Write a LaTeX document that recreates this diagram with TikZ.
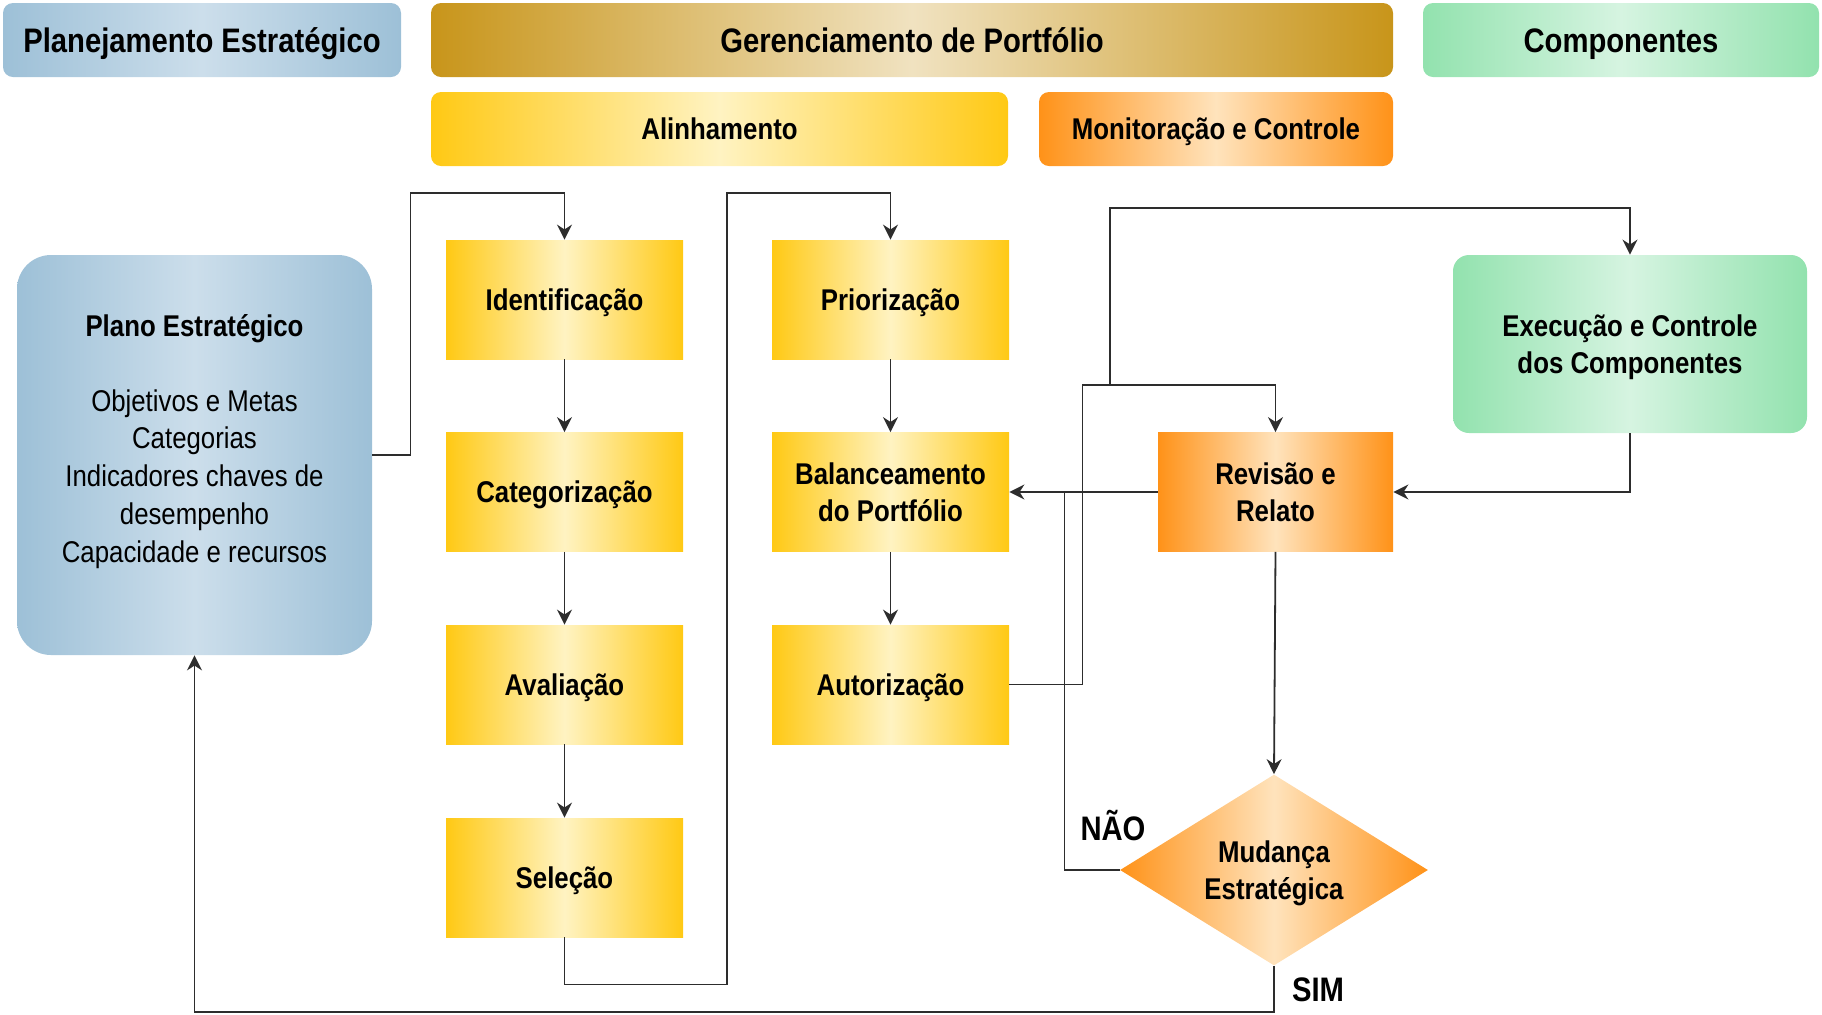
\documentclass[tikz,border=0pt]{standalone}
\usepackage{fontspec}
\setmainfont{Liberation Sans}[FakeStretch=0.86]
\usepackage{xcolor}
\usepackage{tikz}
\usetikzlibrary{arrows,arrows.meta,shapes,positioning,calc}

\definecolor{azulE}{RGB}{157,192,215}
\definecolor{azulC}{RGB}{204,222,235}
\definecolor{ouroE}{RGB}{200,149,26}
\definecolor{ouroC}{RGB}{240,226,192}
\definecolor{verdeE}{RGB}{146,226,174}
\definecolor{verdeC}{RGB}{214,244,225}
\definecolor{amareloE}{RGB}{255,201,20}
\definecolor{amareloC}{RGB}{255,243,194}
\definecolor{laranjaE}{RGB}{255,146,24}
\definecolor{laranjaC}{RGB}{255,227,188}
\definecolor{linha}{RGB}{45,45,45}

\tikzset{
	cabec/.style={rounded corners=5pt,inner sep=0pt,font=\fontsize{17}{20}\selectfont\bfseries,text height=12.2pt,text depth=0pt,minimum height=37pt},
	cabecmenor/.style={cabec,font=\fontsize{15}{18}\selectfont\bfseries,text height=10.7pt},
	etapa/.style={inner sep=0pt,align=center,font=\fontsize{15}{18.5}\selectfont\bfseries,text height=10.7pt,text depth=0pt,minimum width=118.5pt,minimum height=59.5pt,left color=amareloE,right color=amareloE,middle color=amareloC},
	duaslinhas/.style={text height=29.2pt,text depth=0pt},
	fluxo/.style={draw=linha,line width=0.9pt,-{Stealth[length=7.5pt,width=7.5pt]}},
	liga/.style={draw=linha,line width=0.9pt},
	rotulo/.style={font=\fontsize{17}{20}\selectfont\bfseries,inner sep=0pt}
}

\begin{document}
\begin{tikzpicture}[x=0.5pt,y=0.5pt,yscale=-1,xscale=1]
	\useasboundingbox (0,0) rectangle (1822,1014);

	% cabecalhos
	\node (planej) [cabec,minimum width=199pt,left color=azulE,right color=azulE,middle color=azulC] at (202,40) {Planejamento Estratégico};
	\node (gerenc) [cabec,minimum width=481pt,left color=ouroE,right color=ouroE,middle color=ouroC] at (912,40) {Gerenciamento de Portfólio};
	\node (compon) [cabec,minimum width=198pt,left color=verdeE,right color=verdeE,middle color=verdeC] at (1621,40) {Componentes};
	\node (alinh) [cabecmenor,minimum width=288.5pt,left color=amareloE,right color=amareloE,middle color=amareloC] at (719.5,129) {Alinhamento};
	\node (monit) [cabecmenor,minimum width=177pt,left color=laranjaE,right color=laranjaE,middle color=laranjaC] at (1216,129) {Monitoração e Controle};

	% plano estrategico
	\node (plano) [rounded corners=17pt,minimum width=177.5pt,minimum height=200pt,left color=azulE,right color=azulE,middle color=azulC] at (194.5,455) {};
	\node (planot) [font=\fontsize{15}{18}\selectfont\bfseries,inner sep=0pt] at (194.5,329) {Plano Estratégico};
	\node (planol) [font=\fontsize{15}{18.9}\selectfont,align=center,inner sep=0pt,anchor=north] at (194.5,389) {Objetivos e Metas\\Categorias\\Indicadores chaves de\\desempenho\\Capacidade e recursos};

	% etapas do alinhamento
	\node (ident) [etapa] at (564.5,299.5) {Identificação};
	\node (categ) [etapa] at (564.5,492) {Categorização};
	\node (aval) [etapa] at (564.5,684.5) {Avaliação};
	\node (selec) [etapa] at (564.5,877.5) {Seleção};
	\node (prior) [etapa] at (890.5,299.5) {Priorização};
	\node (balan) [etapa,duaslinhas] at (890.5,492) {Balanceamento\\do Portfólio};
	\node (autor) [etapa] at (890.5,684.5) {Autorização};

	% monitoracao e componentes
	\node (revis) [etapa,duaslinhas,minimum width=117.5pt,left color=laranjaE,right color=laranjaE,middle color=laranjaC] at (1275.5,492) {Revisão e\\Relato};
	\node (exec) [etapa,duaslinhas,rounded corners=8pt,minimum width=177pt,minimum height=89pt,left color=verdeE,right color=verdeE,middle color=verdeC] at (1630,344) {Execução e Controle\\dos Componentes};
	\node (mudan) [diamond,aspect=1.61,inner sep=0pt,align=center,font=\fontsize{15}{18.5}\selectfont\bfseries,duaslinhas,minimum width=154pt,minimum height=95.5pt,left color=laranjaE,right color=laranjaE,middle color=laranjaC] at (1274,870) {Mudança\\Estratégica};

	\node (nao) [rotulo] at (1113,826) {NÃO};
	\node (sim) [rotulo] at (1318,990) {SIM};

	% conexoes
	\draw [fluxo] (plano.east) -- ++(38,0) |- ($(ident.north)+(0,-47)$) -- (ident.north);
	\draw [fluxo] (ident) -- (categ);
	\draw [fluxo] (categ) -- (aval);
	\draw [fluxo] (aval) -- (selec);
	\draw [fluxo] (selec.south) -- ++(0,47) -- ++(162.5,0) |- ($(prior.north)+(0,-47)$) -- (prior.north);
	\draw [fluxo] (prior) -- (balan);
	\draw [fluxo] (balan) -- (autor);
	\draw [fluxo] (autor.east) -- ++(73,0) |- ($(revis.north)+(0,-47)$) -- (revis.north);
	\draw [fluxo] ($(revis.north)+(-165.5,-47)$) |- ($(exec.north)+(0,-47)$) -- (exec.north);
	\draw [fluxo] (exec.south) |- (revis.east);
	\draw [fluxo] (revis.west) -- (balan.east);
	\draw [fluxo] (revis.south) -- (mudan.north);
	\draw [liga] (mudan.west) -| ($(balan.east)+(55,0)$);
	\draw [fluxo] (mudan.south) -- ++(0,46) -| (plano.south);
\end{tikzpicture}
\end{document}
